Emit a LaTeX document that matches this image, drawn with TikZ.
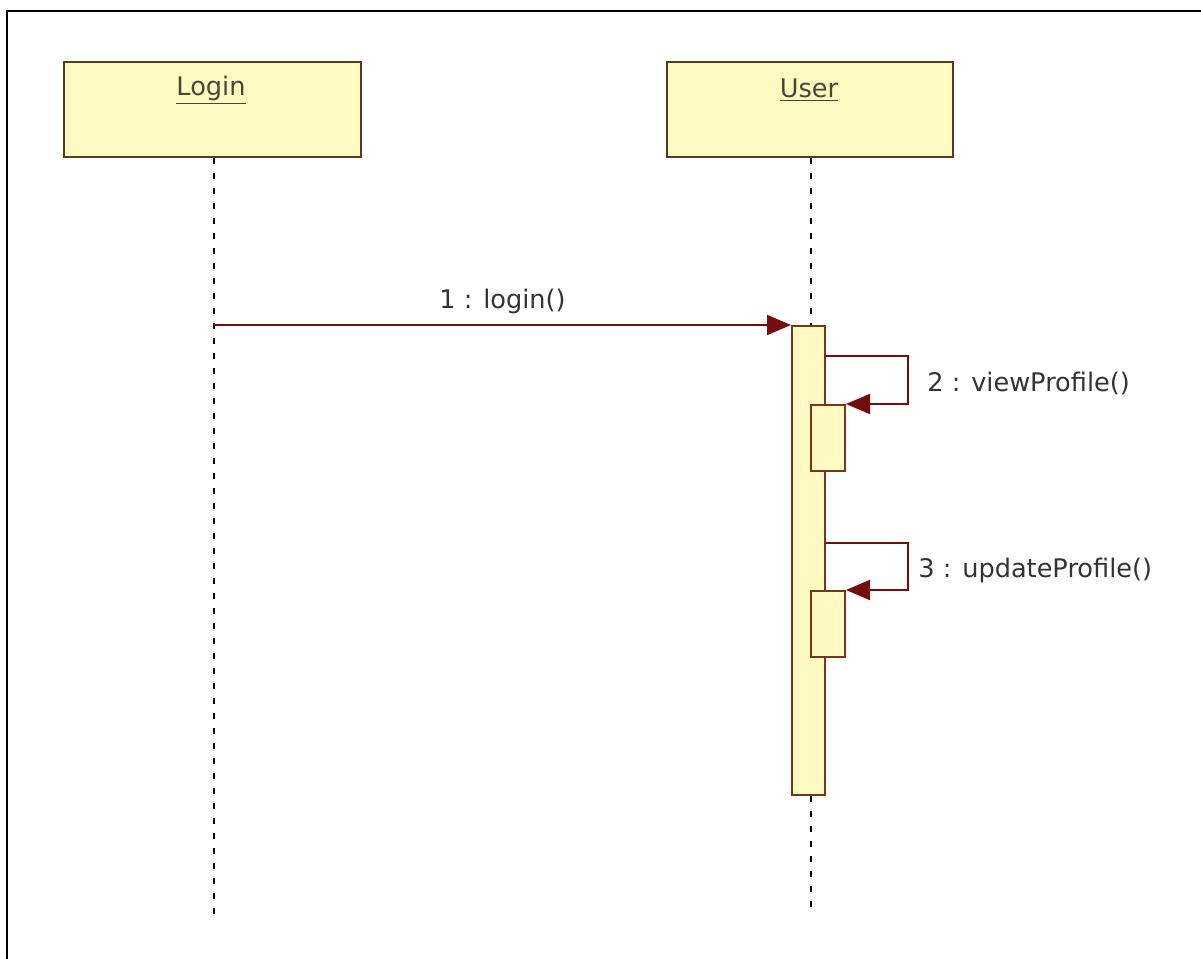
\documentclass[tikz,border=0pt]{standalone}
\usepackage{fontspec}
\setmainfont{DejaVu Sans}
\usepackage{xcolor}
\usepackage{tikz}
\usetikzlibrary{arrows.meta, positioning}

\definecolor{objfill}{HTML}{FFF9C2}
\definecolor{objline}{HTML}{5A3A1E}
\definecolor{actline}{HTML}{7A3418}
\definecolor{msgred}{HTML}{760C0C}
\definecolor{txtgray}{HTML}{333333}

\begin{document}
\begin{tikzpicture}[x=0.5pt, y=-0.5pt, >={Triangle[length=12pt, width=10pt]},
    obj/.style={draw=objline, fill=objfill, line width=1pt, minimum height=47.5pt, inner sep=0pt},
    objname/.style={font=\fontsize{12.8}{15}\selectfont, text=txtgray!80!brown, inner sep=0pt},
    lifeline/.style={dash pattern=on 3pt off 4.5pt, line width=1.1pt},
    act/.style={draw=actline, fill=objfill, line width=1pt, minimum width=16.5pt, inner sep=0pt},
    msg/.style={->, draw=msgred, line width=1pt},
    lbl/.style={font=\fontsize{12.8}{15}\selectfont, text=txtgray, inner sep=0pt}]
    \useasboundingbox (0,0) rectangle (1201,959);

    % Khung
    \draw[line width=1pt] (7,959) -- (7,11) -- (1201,11);

    % Đối tượng
    \node[obj, minimum width=148.5pt] (login) at (212,109.5) {};
    \node[objname] (logintxt) at (211,90) {\underline{Login}};
    \node[obj, minimum width=143pt] (user) at (810,109.5) {};
    \node[objname] (usertxt) at (809,90) {\underline{User}};

    % Thanh kích hoạt
    \node[act, minimum height=234.5pt] (uact) at (808.5,560.5) {};
    \node[act, minimum width=17pt, minimum height=33pt] (view) at (828,438) {};
    \node[act, minimum width=17pt, minimum height=33pt] (upd) at (828,624) {};

    % Đường sống
    \coordinate (loginend) at (214,915);
    \coordinate (userend) at (811,915);
    \draw[lifeline] (login.south -| loginend) -- (loginend);
    \draw[lifeline] (user.south -| userend) -- (userend |- uact.north);
    \draw[lifeline] (uact.south -| userend) -- (userend);

    % Thông điệp
    \coordinate (m1) at (loginend |- uact.north);
    \draw[msg] (m1) -- (uact.north west)
        node[lbl, midway, above=5pt] (l1) {1 : login()};

    \coordinate (m2) at (825,356);
    \draw[msg] (m2) -- ++(83,0) |- (view.north east);
    \node[lbl, anchor=west] (l2) at (927,383) {2 : viewProfile()};

    \coordinate (m3) at (825,543);
    \draw[msg] (m3) -- ++(83,0) |- (upd.north east);
    \node[lbl, anchor=west] (l3) at (918,570) {3 : updateProfile()};
\end{tikzpicture}
\end{document}
